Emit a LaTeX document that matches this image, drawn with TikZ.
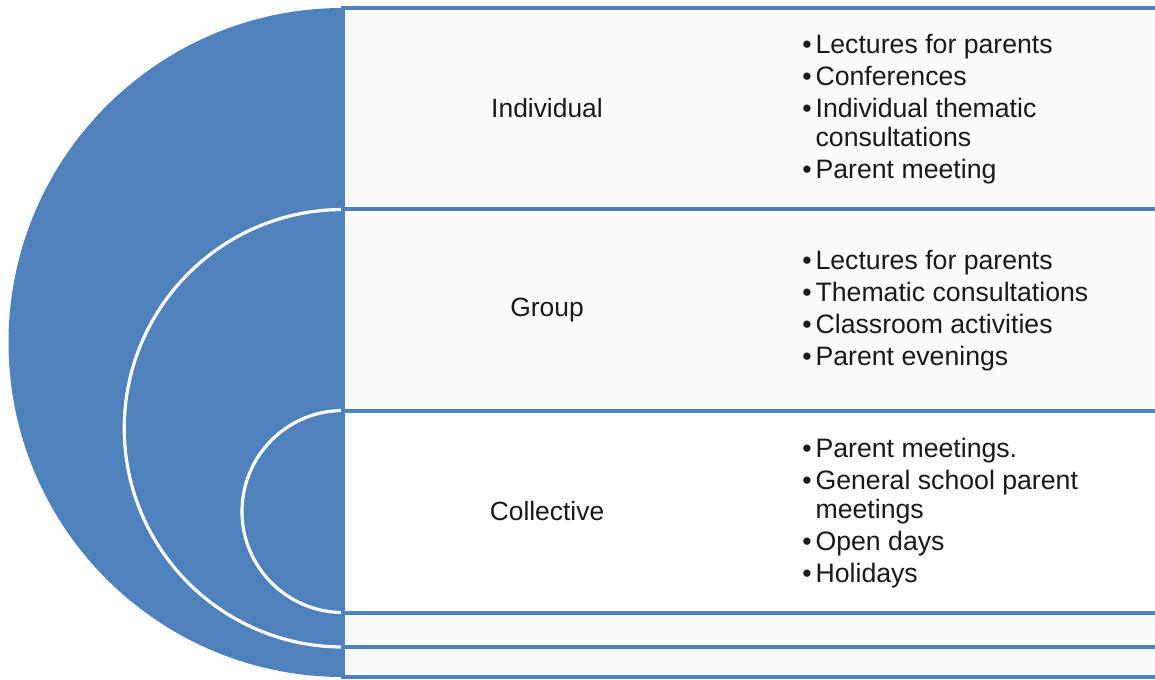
\documentclass[tikz,border=0pt]{standalone}
\usepackage{fontspec}
\setmainfont{Liberation Sans}
\definecolor{tgtblue}{HTML}{4F81BD}
\tikzset{
  rowbox/.style={draw=tgtblue, line width=3pt},
  ringline/.style={draw=white, line width=2.4pt},
  formlabel/.style={font=\fontsize{19.8}{22}\selectfont, text=black!90},
  formlist/.style={font=\fontsize{20}{22}\selectfont, text=black!90, align=left, anchor=west, inner sep=0pt}
}
% bullet with a fixed indent
\newcommand{\itm}[1]{\makebox[10pt][l]{\textbullet}#1}
\begin{document}
\begin{tikzpicture}[x=0.75pt, y=0.75pt]
  \useasboundingbox (0,0) rectangle (1155,679);
  % outer half disc and the two inner rings
  \fill[tgtblue] (343,671) arc[start angle=90, end angle=270, radius=334.5] -- cycle;
  \foreach \ytop/\ybot in {469.5/32, 268.5/66.5} {
    \draw[ringline] (343,\ytop) arc[start angle=90, end angle=270, radius={(\ytop-\ybot)/2}];
  }
  % rows: top / bottom / fill
  \foreach \ytop/\ybot/\c in {671/469.5/black!1, 469.5/268.5/black!1, 268.5/66.5/white, 66.5/32/black!1, 32/2/black!1} {
    \filldraw[rowbox, fill=\c] (343,\ytop) rectangle (1165,\ybot);
  }
  % level names
  \foreach \ymid/\name/\lab in {571/indiv/Individual, 369/group/Group, 168/coll/Collective} {
    \node[formlabel] (\name) at (547,\ymid) {\lab};
  }
  % forms of work per level
  \node[formlist] (indivlist) at (802,570) {\itm{Lectures for parents}\\[2pt]
    \itm{Conferences}\\[2pt]
    \itm{Individual thematic}\\
    \hspace*{10pt}consultations\\[2pt]
    \itm{Parent meeting}};
  \node[formlist] (grouplist) at (802,368) {\itm{Lectures for parents}\\[2pt]
    \itm{Thematic consultations}\\[2pt]
    \itm{Classroom activities}\\[2pt]
    \itm{Parent evenings}};
  \node[formlist] (colllist) at (802,166) {\itm{Parent meetings.}\\[2pt]
    \itm{General school parent}\\
    \hspace*{10pt}meetings\\[2pt]
    \itm{Open days}\\[2pt]
    \itm{Holidays}};
\end{tikzpicture}
\end{document}
